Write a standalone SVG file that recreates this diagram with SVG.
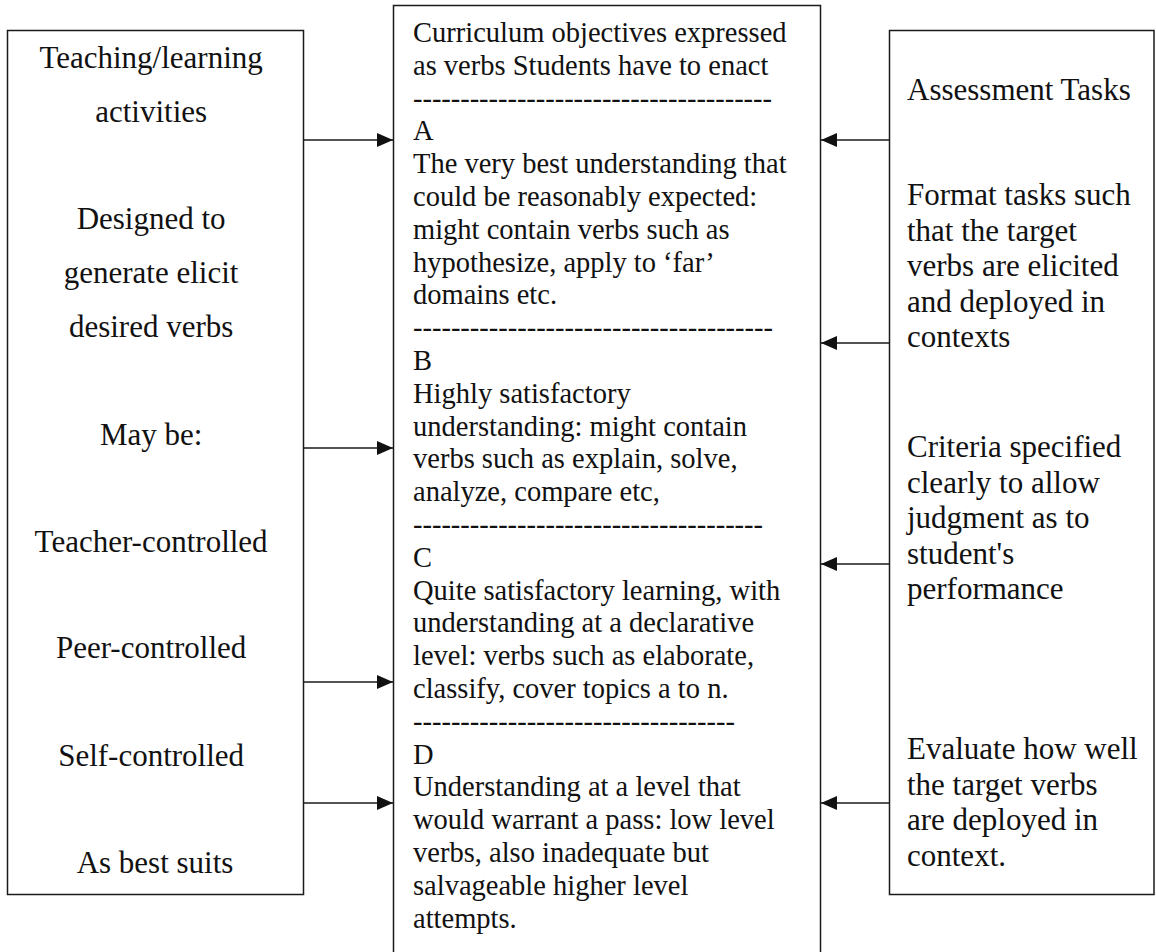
<svg xmlns="http://www.w3.org/2000/svg" width="1156" height="952" viewBox="0 0 1156 952">
<style>
.box{fill:#fff;stroke:#1a1a1a;stroke-width:1.5}
.t{font-family:"Liberation Serif","Times New Roman",serif;fill:#111}
.side{font-size:31px}
.mid{font-size:28.5px}
.c{text-anchor:middle}
.conn{stroke:#1a1a1a;stroke-width:1.5;fill:none}
</style>
<defs>
<marker id="ah" markerWidth="16" markerHeight="14" refX="16" refY="7" orient="auto" markerUnits="userSpaceOnUse">
<path d="M0,0 L16,7 L0,14 Z" fill="#111"/>
</marker>
</defs>
<rect width="1156" height="952" fill="#fff"/>
<g id="left">
<rect class="box" x="7.5" y="30.5" width="296" height="864"/>
<text class="t side c" x="155">
<tspan x="155" y="68">Teaching/learning</tspan>
<tspan x="155" y="122">activities</tspan>
<tspan x="155" y="229">Designed to</tspan>
<tspan x="155" y="283">generate elicit</tspan>
<tspan x="155" y="337">desired verbs</tspan>
<tspan x="155" y="445">May be:</tspan>
<tspan x="155" y="552">Teacher-controlled</tspan>
<tspan x="155" y="658">Peer-controlled</tspan>
<tspan x="155" y="766">Self-controlled</tspan>
<tspan x="155" y="873">As best suits</tspan>
</text>
</g>
<g id="center">
<rect class="box" x="393.5" y="5.5" width="427" height="960"/>
<text class="t mid">
<tspan x="413" y="42">Curriculum objectives expressed</tspan>
<tspan x="413" y="74.8">as verbs Students have to enact</tspan>
<tspan x="413" y="140.4">A</tspan>
<tspan x="413" y="173.2">The very best understanding that</tspan>
<tspan x="413" y="206">could be reasonably expected:</tspan>
<tspan x="413" y="238.8">might contain verbs such as</tspan>
<tspan x="413" y="271.6">hypothesize, apply to ‘far’</tspan>
<tspan x="413" y="304.4">domains etc.</tspan>
<tspan x="413" y="370">B</tspan>
<tspan x="413" y="402.8">Highly satisfactory</tspan>
<tspan x="413" y="435.6">understanding: might contain</tspan>
<tspan x="413" y="468.4">verbs such as explain, solve,</tspan>
<tspan x="413" y="501.2">analyze, compare etc,</tspan>
<tspan x="413" y="566.8">C</tspan>
<tspan x="413" y="599.6">Quite satisfactory learning, with</tspan>
<tspan x="413" y="632.4">understanding at a declarative</tspan>
<tspan x="413" y="665.2">level: verbs such as elaborate,</tspan>
<tspan x="413" y="698">classify, cover topics a to n.</tspan>
<tspan x="413" y="763.6">D</tspan>
<tspan x="413" y="796.4">Understanding at a level that</tspan>
<tspan x="413" y="829.2">would warrant a pass: low level</tspan>
<tspan x="413" y="862">verbs, also inadequate but</tspan>
<tspan x="413" y="894.8">salvageable higher level</tspan>
<tspan x="413" y="927.6">attempts.</tspan>
</text>
<text class="t mid" x="413" y="107.6" textLength="359" lengthAdjust="spacing">--------------------------------------</text>
<text class="t mid" x="413" y="337.2" textLength="360" lengthAdjust="spacing">--------------------------------------</text>
<text class="t mid" x="413" y="534" textLength="350" lengthAdjust="spacing">-------------------------------------</text>
<text class="t mid" x="413" y="730.8" textLength="322" lengthAdjust="spacing">----------------------------------</text>
</g>
<g id="right">
<rect class="box" x="889.5" y="30.5" width="264.5" height="864"/>
<text class="t side">
<tspan x="907" y="100">Assessment Tasks</tspan>
<tspan x="907" y="205">Format tasks such</tspan>
<tspan x="907" y="240.5">that the target</tspan>
<tspan x="907" y="276">verbs are elicited</tspan>
<tspan x="907" y="311.5">and deployed in</tspan>
<tspan x="907" y="347">contexts</tspan>
<tspan x="907" y="457">Criteria specified</tspan>
<tspan x="907" y="492.5">clearly to allow</tspan>
<tspan x="907" y="528">judgment as to</tspan>
<tspan x="907" y="563.5">student's</tspan>
<tspan x="907" y="599">performance</tspan>
<tspan x="907" y="759">Evaluate how well</tspan>
<tspan x="907" y="794.5">the target verbs</tspan>
<tspan x="907" y="830">are deployed in</tspan>
<tspan x="907" y="865.5">context.</tspan>
</text>
</g>
<g id="connectors">
<line class="conn" x1="303.5" y1="140" x2="393" y2="140" marker-end="url(#ah)"/>
<line class="conn" x1="303.5" y1="448" x2="393" y2="448" marker-end="url(#ah)"/>
<line class="conn" x1="303.5" y1="682" x2="393" y2="682" marker-end="url(#ah)"/>
<line class="conn" x1="303.5" y1="803" x2="393" y2="803" marker-end="url(#ah)"/>
<line class="conn" x1="889.5" y1="140" x2="821" y2="140" marker-end="url(#ah)"/>
<line class="conn" x1="889.5" y1="343" x2="821" y2="343" marker-end="url(#ah)"/>
<line class="conn" x1="889.5" y1="564" x2="821" y2="564" marker-end="url(#ah)"/>
<line class="conn" x1="889.5" y1="803" x2="821" y2="803" marker-end="url(#ah)"/>
</g>
</svg>
